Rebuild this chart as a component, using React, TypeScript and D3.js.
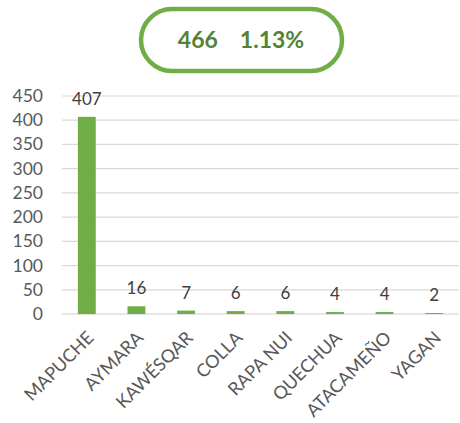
import React from "react";
import * as d3 from "d3";

const categories = ["MAPUCHE", "AYMARA", "KAWÉSQAR", "COLLA", "RAPA NUI", "QUECHUA", "ATACAMEÑO", "YAGAN"];
const values = [407, 16, 7, 6, 6, 4, 4, 2];
const yTicks = [0, 50, 100, 150, 200, 250, 300, 350, 400, 450];
const totalLabel = "466";
const percentLabel = "1.13%";

const W = 460, H = 423;
const left = 62, right = 459, top = 96, bottom = 314;
const FONT = "Lato, 'Open Sans', sans-serif";

export default function App() {
  const x = d3.scaleBand<string>().domain(categories).range([left, right]).paddingInner(0.64).paddingOuter(0.32);
  const y = d3.scaleLinear().domain([0, 450]).range([bottom, top]);
  return (
    <svg width={W} height={H} style={{ position: "absolute", left: 0, top: 0, background: "#fff" }}>
      <rect x={141} y={9} width={201} height={62} rx={31} fill="#fff" stroke="#70AD47" strokeWidth={4.5} />
      <text x={241} y={48} textAnchor="middle" fontFamily={FONT} fontWeight={700} fontSize={23} fill="#548235">
        {totalLabel}
        <tspan dx={22}>{percentLabel}</tspan>
      </text>
      {yTicks.map((t) => (
        <g key={t}>
          <line x1={left} x2={right} y1={y(t)} y2={y(t)} stroke={t === 0 ? "#d0d0d0" : "#d9d9d9"} strokeWidth={1.2} />
          <text x={43} y={y(t) + 6} textAnchor="end" fontFamily={FONT} fontSize={17.5} fill="#595959">{t}</text>
        </g>
      ))}
      {categories.map((c, i) => {
        const bx = x(c)!;
        const cx = bx + x.bandwidth() / 2;
        return (
          <g key={c}>
            <rect x={bx} y={y(values[i])} width={x.bandwidth()} height={bottom - y(values[i])} fill="#70AD47" />
            <text x={cx} y={y(values[i]) - 12} textAnchor="middle" fontFamily={FONT} fontSize={17} fill="#404040">{values[i]}</text>
            <text transform={`translate(${cx + 8},${bottom + 25}) rotate(-45)`} textAnchor="end" fontFamily={FONT} fontSize={18} fill="#595959">{c}</text>
          </g>
        );
      })}
    </svg>
  );
}
